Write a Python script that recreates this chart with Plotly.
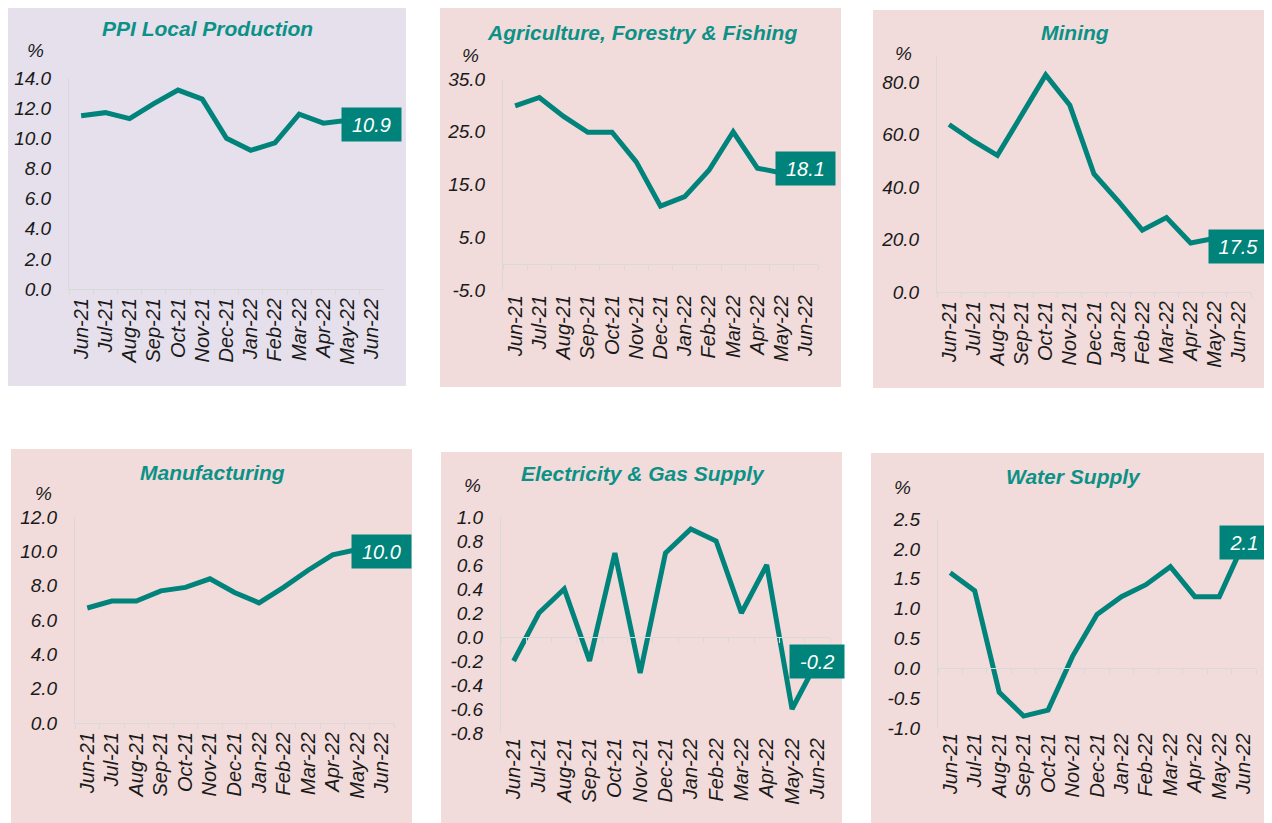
import plotly.graph_objects as go

# Monthly categories shared by all panels
months = [
    "Jun-21", "Jul-21", "Aug-21", "Sep-21", "Oct-21", "Nov-21", "Dec-21",
    "Jan-22", "Feb-22", "Mar-22", "Apr-22", "May-22", "Jun-22",
]

# Series values (%)
ppi_local = [11.5, 11.7, 11.3, 12.3, 13.2, 12.6, 10.0, 9.2, 9.7, 11.6, 11.0, 11.2, 10.9]
agriculture = [29.9, 31.5, 27.9, 24.9, 24.9, 19.3, 10.9, 12.7, 17.7, 25.0, 18.1, 17.2, 18.1]
mining = [63.9, 57.6, 52.1, 67.4, 82.8, 71.2, 45.0, 34.7, 23.6, 28.4, 18.7, 20.5, 17.5]
manufacturing = [6.7, 7.1, 7.1, 7.7, 7.9, 8.4, 7.6, 7.0, 7.9, 8.9, 9.8, 10.1, 10.0]
electricity = [-0.2, 0.2, 0.4, -0.2, 0.7, -0.3, 0.7, 0.9, 0.8, 0.2, 0.6, -0.6, -0.2]
water = [1.6, 1.3, -0.4, -0.8, -0.7, 0.2, 0.9, 1.2, 1.4, 1.7, 1.2, 1.2, 2.1]

titles = [
    "PPI Local Production",
    "Agriculture, Forestry & Fishing",
    "Mining",
    "Manufacturing",
    "Electricity & Gas Supply",
    "Water Supply",
]

# y tick values per panel
yticks = [
    [0, 2, 4, 6, 8, 10, 12, 14],
    [-5, 5, 15, 25, 35],
    [0, 20, 40, 60, 80],
    [0, 2, 4, 6, 8, 10, 12],
    [-0.8, -0.6, -0.4, -0.2, 0.0, 0.2, 0.4, 0.6, 0.8, 1.0],
    [-1.0, -0.5, 0.0, 0.5, 1.0, 1.5, 2.0, 2.5],
]
yranges = [[0, 14], [-5, 35], [0, 90], [0, 12], [-0.8, 1.0], [-1.0, 2.5]]

series = [ppi_local, agriculture, mining, manufacturing, electricity, water]

# page body has an 8px margin, so the figure is drawn 8px smaller and
# reference pixel positions are shifted by that offset
OFF = 8
W, H = 1272 - OFF, 823 - OFF
TEAL = "#00837B"
TITLE_TEAL = "#0B9186"
AXIS_GREY = "#D9D9D9"
TEXT = "#1A1A1A"
FONT = "Liberation Sans, Arial, sans-serif"

# pixel layout: panel background, plot area (x0, x1, ytop, ybottom), title centre, % position
panels = [
    dict(bg=(5, 7, 406, 386), color="#E6E0EC", plot=(69, 384, 78, 289), title=(207, 29), pct=(35, 50)),
    dict(bg=(440, 8, 841, 387), color="#F2DCDB", plot=(503, 818, 79, 290), title=(642, 32), pct=(470, 55)),
    dict(bg=(873, 10, 1272, 388), color="#F2DCDB", plot=(937, 1251, 56, 292), title=(1075, 32), pct=(903, 53)),
    dict(bg=(11, 449, 412, 823), color="#F2DCDB", plot=(75, 394, 517, 723), title=(212, 472), pct=(43, 493)),
    dict(bg=(441, 452, 842, 823), color="#F2DCDB", plot=(501, 830, 517, 733), title=(643, 473), pct=(472, 486)),
    dict(bg=(871, 453, 1272, 823), color="#F2DCDB", plot=(938, 1256, 519, 728), title=(1073, 476), pct=(902, 487)),
]


def px(x):
    return (x - OFF) / W


def py(y):
    return 1 - (y - OFF) / H


def label_width(text, size):
    w = 0
    for ch in text:
        w += 0.278 * size if ch == "." else 0.333 * size if ch == "-" else 0.556 * size
    return w + 12


fig = go.Figure()
shapes = []
annotations = []
layout = {}

for i, (p, vals) in enumerate(zip(panels, series)):
    n = i + 1
    xa = "x" if n == 1 else f"x{n}"
    ya = "y" if n == 1 else f"y{n}"
    x0, x1, yt, yb = p["plot"]

    bx0, by0, bx1, by1 = p["bg"]
    shapes.append(dict(
        type="rect", xref="paper", yref="paper", layer="below",
        x0=px(bx0), x1=px(bx1), y0=py(by1), y1=py(by0),
        fillcolor=p["color"], line=dict(width=0),
    ))

    fig.add_trace(go.Scatter(
        x=months, y=vals, mode="lines", xaxis=xa, yaxis=ya,
        line=dict(color=TEAL, width=5), showlegend=False, hoverinfo="x+y",
    ))

    ymin, ymax = yranges[i]
    has_neg = ymin < 0
    layout[f"xaxis{n}"] = dict(
        domain=[px(x0), px(x1)], anchor=ya, type="category",
        range=[-0.5, len(months) - 0.5], automargin=False,
        showline=not has_neg, linecolor=AXIS_GREY, linewidth=1,
        ticks="" if has_neg else "outside", tickson="boundaries",
        ticklen=5, tickcolor=AXIS_GREY, tickangle=-90,
        tickfont=dict(family=FONT, size=20, color=TEXT, style="italic"),
        showgrid=False, zeroline=False, fixedrange=True,
    )
    layout[f"yaxis{n}"] = dict(
        domain=[py(yb), py(yt)], anchor=xa, range=[ymin, ymax], automargin=False,
        tickvals=yticks[i], ticktext=[f"{v:.1f}" for v in yticks[i]],
        showline=True, linecolor=AXIS_GREY, linewidth=1, ticks="",
        ticklabelstandoff=13,
        tickfont=dict(family=FONT, size=19, color=TEXT, style="italic"),
        showgrid=False, zeroline=False, fixedrange=True,
    )

    if has_neg:
        # extra category axis sitting on the zero line, carrying the boundary ticks
        k = n + 6
        zero_pos = py(yb) + (0 - ymin) / (ymax - ymin) * (py(yt) - py(yb))
        layout[f"xaxis{k}"] = dict(
            domain=[px(x0), px(x1)], anchor="free", position=zero_pos,
            overlaying=xa, type="category", range=[-0.5, len(months) - 0.5],
            categoryarray=months, categoryorder="array", automargin=False,
            showline=True, linecolor=AXIS_GREY, linewidth=1,
            ticks="outside", tickson="boundaries", ticklen=5, tickcolor=AXIS_GREY,
            showticklabels=False, showgrid=False, zeroline=False, fixedrange=True,
        )
        fig.add_trace(go.Scatter(
            x=months, y=[None] * len(months), xaxis=f"x{k}", yaxis=ya,
            mode="lines", showlegend=False, hoverinfo="skip",
        ))

    tx, ty = p["title"]
    annotations.append(dict(
        xref="paper", yref="paper", x=px(tx), y=py(ty), text=titles[i],
        showarrow=False, xanchor="center", yanchor="middle",
        font=dict(family=FONT, size=21, color=TITLE_TEAL, weight="bold", style="italic"),
    ))
    cx, cy = p["pct"]
    annotations.append(dict(
        xref="paper", yref="paper", x=px(cx), y=py(cy), text="%",
        showarrow=False, xanchor="center", yanchor="middle",
        font=dict(family=FONT, size=19, color=TEXT, style="italic"),
    ))

    last = f"{vals[-1]:.1f}"
    annotations.append(dict(
        xref=xa, yref=ya, x=months[-1], y=vals[-1], text=last,
        showarrow=False, xanchor="center", yanchor="middle",
        bgcolor=TEAL, borderpad=4, width=label_width(last, 20), height=25,
        font=dict(family=FONT, size=20, color="white", style="italic"),
    ))

fig.update_layout(
    width=W, height=H,
    margin=dict(l=0, r=0, t=0, b=0),
    paper_bgcolor="white", plot_bgcolor="rgba(0,0,0,0)",
    shapes=shapes, annotations=annotations,
    showlegend=False,
    **layout,
)

fig.write_html("out.html")
